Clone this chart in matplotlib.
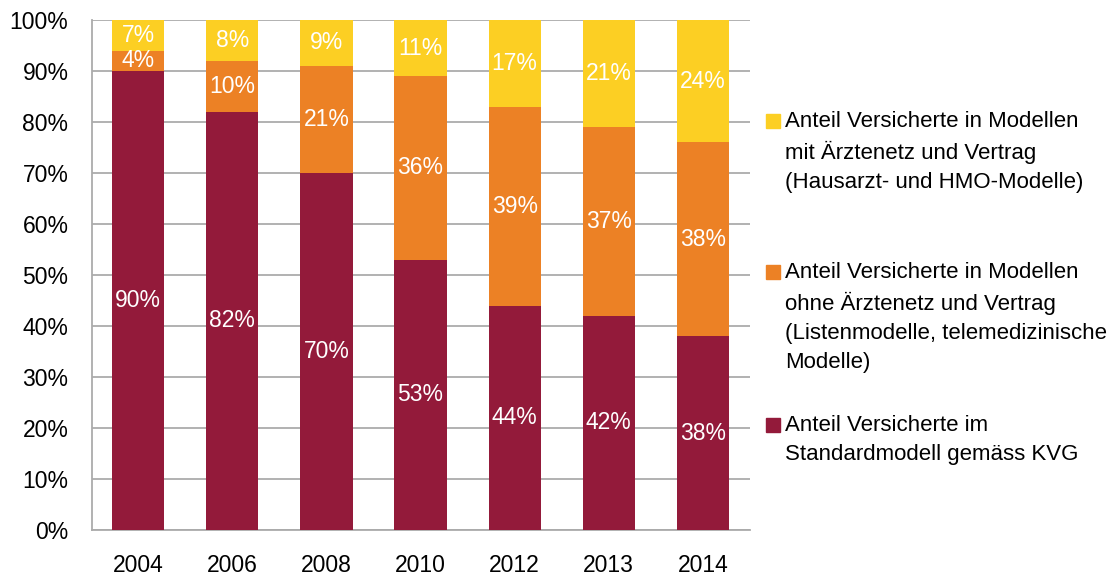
import matplotlib
matplotlib.use("Agg")
import matplotlib.pyplot as plt
from matplotlib.patches import Rectangle

plt.rcParams['font.family'] = ['Liberation Sans', 'DejaVu Sans']

# Shares of insured persons by insurance model (percent)
years = ["2004", "2006", "2008", "2010", "2012", "2013", "2014"]
standard = [90, 82, 70, 53, 44, 42, 38]
without_network = [4, 10, 21, 36, 39, 37, 38]
with_network = [7, 8, 9, 11, 17, 21, 24]

series_labels = [
    "Anteil Versicherte in Modellen\nmit Ärztenetz und Vertrag\n(Hausarzt- und HMO-Modelle)",
    "Anteil Versicherte in Modellen\nohne Ärztenetz und Vertrag\n(Listenmodelle, telemedizinische\nModelle)",
    "Anteil Versicherte im\nStandardmodell gemäss KVG",
]
colors = {"standard": "#931A3A", "without": "#EC8125", "with": "#FCCF23"}
grid_color = "#ABABAB"

fig = plt.figure(figsize=(11.1, 5.76), dpi=100)
ax = fig.add_axes([92 / 1110, 46 / 576, 658 / 1110, 510 / 576])

x = range(len(years))
width = 0.555
stack = [
    (standard, colors["standard"]),
    (without_network, colors["without"]),
    (with_network, colors["with"]),
]
bottom = [0] * len(years)
for values, color in stack:
    ax.bar(x, values, width, bottom=bottom, color=color, edgecolor="none", zorder=3)
    for i, v in enumerate(values):
        top = min(bottom[i] + v, 100)
        ax.text(i, (bottom[i] + top) / 2, f"{v}%", ha="center", va="center",
                color="white", fontsize=16.5, zorder=4)
    bottom = [b + v for b, v in zip(bottom, values)]

ax.set_xlim(-0.49, 6.5)
ax.set_ylim(0, 100)
ax.set_yticks(range(0, 101, 10))
ax.set_yticklabels([f"{t}%" for t in range(0, 101, 10)])
ax.set_xticks(list(x))
ax.set_xticklabels(years)
ax.tick_params(axis="both", length=0, labelsize=16.5, colors="black")
ax.tick_params(axis="y", pad=17)
ax.tick_params(axis="x", pad=17)
ax.yaxis.grid(True, color=grid_color, linewidth=1.3, zorder=0)
for side in ["top", "right"]:
    ax.spines[side].set_visible(False)
for side in ["left", "bottom"]:
    ax.spines[side].set_color(grid_color)
    ax.spines[side].set_linewidth(1.3)

# Legend drawn by hand to the right of the plot
legend_rows = [
    (series_labels[0], colors["with"], 121),
    (series_labels[1], colors["without"], 272),
    (series_labels[2], colors["standard"], 425),
]
for label, color, y_px in legend_rows:
    y = 1 - y_px / 576
    fig.patches.append(Rectangle((766 / 1110, y - 7 / 576), 14 / 1110, 14 / 576,
                                 transform=fig.transFigure, color=color))
    fig.text(785 / 1110, y + 10 / 576, label, ha="left", va="top",
             fontsize=16, linespacing=1.5, color="black")

fig.savefig("out.png", dpi=100)
